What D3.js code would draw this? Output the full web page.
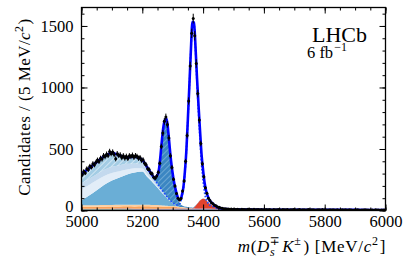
<!DOCTYPE html>
<html>
<head>
  <script src='https://d3js.org/d3.v7.min.js'></script>
  <style>
    body { margin: 0; background: white; }
    text { font-family: 'Liberation Serif', 'DejaVu Serif', serif; fill: black; }
  </style>
</head>
<body>
  <svg id="canvas" width="407" height="265"></svg>
  <script>
    // histogram of candidates, 5 MeV bins starting at 5000
    const binStart = 5000;
    const binWidth = 5;
    const dataCounts = [
      290, 318, 305, 340, 332, 360, 352, 381, 370, 392,
      410, 398, 425, 418, 446, 438, 458, 447, 480, 462,
      475, 455, 420, 462, 448, 452, 430, 445, 426, 441,
      422, 445, 438, 450, 432, 446, 440, 425, 430, 408,
      412, 385, 372, 340, 333, 305, 298, 270, 262, 280,
      310, 385, 520, 630, 725, 760, 700, 590, 445, 350,
      255, 200, 138, 100, 86, 98, 158, 240, 400, 610,
      890, 1175, 1440, 1560, 1420, 1195, 950, 735, 545, 380,
      275, 185, 140, 100, 82, 64, 55, 42, 38, 28,
      26, 20, 19, 14, 15, 12, 13, 10, 12, 9,
      10, 8, 11, 9, 7, 10, 8, 9, 6, 11, 8, 9, 7, 10, 6, 8, 9, 7, 8, 6,
      7, 9, 6, 8, 7, 5, 9, 7, 6, 8, 7, 5, 8, 6, 7, 9, 5, 6, 7, 8,
      6, 5, 7, 8, 5, 6, 7, 4, 6, 8, 5, 7, 6, 5, 4, 7, 6, 5, 8, 5,
      6, 4, 5, 7, 5, 6, 4, 5, 6, 3, 5, 6, 4, 7, 5, 4, 6, 5, 3, 5,
      4, 6, 5, 3, 5, 4, 6, 4, 5, 3, 4, 5, 3, 6, 4, 5, 3, 4, 5, 4
    ];

    // fit components evaluated on a common mass grid
    const fitMass = [5000, 5025, 5050, 5075, 5100, 5125, 5150, 5175, 5200, 5215, 5230, 5240,
      5250, 5255, 5260, 5265, 5270, 5275, 5280, 5285, 5290, 5295, 5300, 5305, 5310, 5315, 5320,
      5325, 5330, 5335, 5340, 5345, 5350, 5355, 5360, 5365, 5370, 5375, 5380, 5385, 5390, 5395,
      5400, 5405, 5410, 5415, 5420, 5430, 5440, 5450, 5460, 5475, 5500, 5550, 5600, 5700, 5800,
      5900, 6000];
    const combBkg = [10, 10, 10, 10, 10, 10, 10, 9, 9,
      9, 9, 9, 9, 9, 9, 9, 9, 9, 9, 9, 9, 9,
      9, 9, 9, 9, 9, 9, 9, 9, 9, 9, 9,
      8, 8, 8, 8, 8, 8, 8, 8, 8, 8, 8, 8, 8, 8,
      8, 8, 7, 7, 7, 7, 7, 6, 6, 5, 5, 4];
    const purpleBkg = [5, 5, 5, 5, 5, 6, 6, 6, 6,
      6, 6, 6, 6, 6, 6, 6, 6, 6, 6, 6, 6, 6,
      7, 7, 7, 7, 7, 7, 7, 7, 7, 7, 7,
      8, 8, 8, 8, 8, 8, 8, 8, 8, 8, 8, 8, 8, 8,
      7, 6, 4, 3, 1, 0, 0, 0, 0, 0, 0, 0];
    const orangeBkg = [15, 15, 16, 16, 17, 17, 18, 18, 19,
      19, 18, 18, 18, 17, 17, 16, 16, 15, 15, 14, 14, 13, 13, 12, 12, 11, 10, 9, 8, 7, 6, 5, 4, 4, 3, 2, 2, 1, 1,
      0, 0, 0, 0, 0, 0, 0, 0, 0, 0, 0, 0, 0, 0, 0, 0, 0, 0, 0, 0];
    const peachBkg = [12, 12, 12, 13, 13, 13, 13, 13, 13,
      13, 12, 12, 11, 11, 10, 10, 9, 9, 8, 8, 8, 7, 7, 6, 6, 5, 5, 4, 4, 3, 3, 2, 2, 1, 1, 1,
      0, 0, 0, 0, 0, 0, 0, 0, 0, 0, 0, 0, 0, 0, 0, 0, 0, 0, 0, 0, 0, 0, 0];
    const misIdBkg = [0, 0, 0, 0, 0, 0, 0, 0, 0, 0, 0, 0, 0, 0, 0, 0, 0, 0, 0, 0, 0, 0, 0, 0, 0, 0, 0, 0, 0, 0, 0, 0, 0, 0, 0, 0,
      7, 20, 36, 52, 66, 75, 80, 77, 67, 55, 43, 25, 12, 5, 2,
      0, 0, 0, 0, 0, 0, 0, 0];
    const partRecoA = [40, 80, 122, 165, 198, 222, 245, 262, 270,
      230, 195, 168, 140, 128, 115, 102, 90, 77, 65, 53, 42, 32, 22, 14, 8, 3,
      0, 0, 0, 0, 0, 0, 0, 0, 0, 0, 0, 0, 0, 0, 0, 0, 0, 0, 0, 0, 0, 0, 0, 0, 0, 0, 0, 0, 0, 0, 0, 0, 0];
    const partRecoB = [90, 86, 80, 72, 62, 52, 42, 35, 25,
      20, 14, 10, 8, 6, 5, 4, 3, 2, 1, 1,
      0, 0, 0, 0, 0, 0, 0, 0, 0, 0, 0, 0, 0, 0, 0, 0, 0, 0, 0, 0, 0, 0, 0, 0, 0, 0, 0, 0, 0, 0, 0, 0, 0, 0, 0, 0, 0, 0, 0];
    const partRecoC = [50, 50, 50, 50, 50, 48, 45, 40, 35,
      28, 20, 16, 13, 11, 10, 9, 8, 7, 6, 5, 4, 3, 2, 1,
      0, 0, 0, 0, 0, 0, 0, 0, 0, 0, 0, 0, 0, 0, 0, 0, 0, 0, 0, 0, 0, 0, 0, 0, 0, 0, 0, 0, 0, 0, 0, 0, 0, 0, 0];
    const partRecoD = [75, 86, 98, 108, 112, 80, 52, 55, 35,
      28, 20, 15, 12, 10, 9, 8, 7, 6, 5, 4, 3, 2, 1, 1,
      0, 0, 0, 0, 0, 0, 0, 0, 0, 0, 0, 0, 0, 0, 0, 0, 0, 0, 0, 0, 0, 0, 0, 0, 0, 0, 0, 0, 0, 0, 0, 0, 0, 0, 0];
    const bdPeak = [0, 0, 0, 0, 0, 0, 0, 0, 0,
      2, 5, 12, 70, 140, 270, 420, 540, 605, 630, 550, 430, 320, 235, 170, 118, 75, 42, 24, 15, 10,
      8, 7, 6, 5, 4, 4, 3, 3, 2, 2, 2, 1, 1, 1,
      0, 0, 0, 0, 0, 0, 0, 0, 0, 0, 0, 0, 0, 0, 0];
    const bsSignal = [0, 0, 0, 0, 0, 0, 0, 0, 0, 0, 0, 0, 0, 0, 0,
      1, 1, 1, 1, 2, 2, 3, 3, 4, 6, 10, 18, 35, 80, 150, 280, 460, 720, 1000, 1290, 1510, 1500,
      1290, 1020, 780, 560, 360, 230, 130, 75, 48, 30, 20, 12, 8, 5, 3, 2, 1,
      0, 0, 0, 0, 0];

    const xTicks = [5000, 5200, 5400, 5600, 5800, 6000];
    const yTicks = [0, 500, 1000, 1500];

    const svg = d3.select('svg#canvas');
    const plotLeft = 81.5, plotRight = 385.5, plotTop = 7.5, plotBottom = 210.5;

    const xScale = d3.scaleLinear().domain([5000, 6000]).range([plotLeft, plotRight]);
    const yScale = d3.scaleLinear().domain([0, 1650]).range([plotBottom, plotTop]);

    // hatch patterns
    const defs = svg.append('defs');
    function hatch(id, base, line, w) {
      const p = defs.append('pattern')
        .attr('id', id)
        .attr('patternUnits', 'userSpaceOnUse')
        .attr('width', 4).attr('height', 4)
        .attr('patternTransform', 'rotate(45)');
      p.append('rect').attr('width', 4).attr('height', 4).attr('fill', base);
      p.append('line').attr('x1', 0).attr('y1', 0).attr('x2', 0).attr('y2', 4)
        .attr('stroke', line).attr('stroke-width', w);
    }
    hatch('hatchLight', '#a3cce4', '#e4f0f9', 1.4);
    hatch('hatchDark', '#3b86c2', '#8fbfe0', 1.2);

    defs.append('clipPath').attr('id', 'plotClip')
      .append('rect').attr('x', plotLeft).attr('y', plotTop)
      .attr('width', plotRight - plotLeft).attr('height', plotBottom - plotTop);

    // stacked fit components
    const keys = ['comb', 'purple', 'orange', 'peach', 'misid', 'recoA', 'recoB', 'recoC', 'recoD', 'bd', 'sig'];
    const colours = {
      comb: '#7aa87c', purple: '#8468b4', orange: '#f9a25a', peach: '#fccfa0', misid: '#e2432d',
      recoA: '#6aaed6', recoB: '#e2edf8', recoC: '#c3d9ee', recoD: 'url(#hatchLight)', bd: 'url(#hatchDark)'
    };
    const fitRows = fitMass.map((m, i) => ({
      m: m, comb: combBkg[i], purple: purpleBkg[i], orange: orangeBkg[i], peach: peachBkg[i],
      misid: misIdBkg[i], recoA: partRecoA[i], recoB: partRecoB[i], recoC: partRecoC[i],
      recoD: partRecoD[i], bd: bdPeak[i], sig: bsSignal[i]
    }));
    const stacked = d3.stack().keys(keys)(fitRows);

    const plot = svg.append('g').attr('clip-path', 'url(#plotClip)');

    const area = d3.area()
      .x(d => xScale(d.data.m))
      .y0(d => yScale(d[0]))
      .y1(d => yScale(d[1]))
      .curve(d3.curveMonotoneX);

    plot.selectAll('path.layer')
      .data(stacked.filter(s => s.key !== 'sig'))
      .join('path')
      .attr('class', 'layer')
      .attr('d', area)
      .attr('fill', s => colours[s.key]);

    // signal drawn as a dotted outline, on top of the non-peaking backgrounds
    const sigLine = d3.line()
      .x(d => xScale(d.m))
      .y(d => yScale(d.comb + d.purple + d.orange + d.peach + d.recoA + d.recoB + d.recoC + d.recoD + d.sig))
      .curve(d3.curveMonotoneX);
    plot.append('path')
      .attr('d', sigLine(fitRows))
      .attr('fill', 'none')
      .attr('stroke', '#1f4fff')
      .attr('stroke-width', 1.8)
      .attr('stroke-dasharray', '1.6,1.8');

    // total fit
    const totalLine = d3.line()
      .x(d => xScale(d.data.m))
      .y(d => yScale(d[1]))
      .curve(d3.curveMonotoneX);
    plot.append('path')
      .attr('d', totalLine(stacked[stacked.length - 1]))
      .attr('fill', 'none')
      .attr('stroke', '#0000ff')
      .attr('stroke-width', 2.6);

    // data points with sqrt(N) errors
    const points = dataCounts.map((n, i) => ({ m: binStart + binWidth * (i + 0.5), n: n }));
    plot.append('g').selectAll('line')
      .data(points)
      .join('line')
      .attr('x1', d => xScale(d.m)).attr('x2', d => xScale(d.m))
      .attr('y1', d => yScale(d.n - Math.sqrt(d.n)))
      .attr('y2', d => yScale(d.n + Math.sqrt(d.n)))
      .attr('stroke', 'black')
      .attr('stroke-width', 1);
    plot.append('g').selectAll('circle')
      .data(points)
      .join('circle')
      .attr('cx', d => xScale(d.m))
      .attr('cy', d => yScale(d.n))
      .attr('r', 1.5)
      .attr('fill', 'black');

    // axes, ticks inward on all sides
    function styleAxis(g) {
      g.select('.domain').remove();
      g.selectAll('.tick line').attr('stroke', 'black').attr('stroke-width', 1);
      g.selectAll('text').attr('font-family', "'Liberation Serif', 'DejaVu Serif', serif")
        .attr('font-size', 16.5).attr('fill', 'black');
    }
    const xMinor = d3.range(5000, 6001, 50);
    const yMinor = d3.range(0, 1601, 100);

    svg.append('g').attr('transform', `translate(0,${plotBottom})`)
      .call(d3.axisBottom(xScale).tickValues(xTicks).tickSize(-6).tickPadding(5).tickFormat(d3.format('d')))
      .call(styleAxis);
    svg.append('g').attr('transform', `translate(0,${plotBottom})`)
      .call(d3.axisBottom(xScale).tickValues(xMinor).tickSize(-3).tickFormat(''))
      .call(styleAxis);
    svg.append('g').attr('transform', `translate(0,${plotTop})`)
      .call(d3.axisTop(xScale).tickValues(xTicks).tickSize(-6).tickFormat(''))
      .call(styleAxis);
    svg.append('g').attr('transform', `translate(0,${plotTop})`)
      .call(d3.axisTop(xScale).tickValues(xMinor).tickSize(-3).tickFormat(''))
      .call(styleAxis);

    const yAxisG = svg.append('g').attr('transform', `translate(${plotLeft},0)`)
      .call(d3.axisLeft(yScale).tickValues(yTicks).tickSize(-6).tickPadding(8).tickFormat(d3.format('d')))
      .call(styleAxis);
    // the zero label sits a little above its tick, clear of the 5000 label
    yAxisG.selectAll('.tick text').filter(d => d === 0).attr('dy', '0.05em');
    svg.append('g').attr('transform', `translate(${plotLeft},0)`)
      .call(d3.axisLeft(yScale).tickValues(yMinor).tickSize(-3).tickFormat(''))
      .call(styleAxis);
    svg.append('g').attr('transform', `translate(${plotRight},0)`)
      .call(d3.axisRight(yScale).tickValues(yTicks).tickSize(-6).tickFormat(''))
      .call(styleAxis);
    svg.append('g').attr('transform', `translate(${plotRight},0)`)
      .call(d3.axisRight(yScale).tickValues(yMinor).tickSize(-3).tickFormat(''))
      .call(styleAxis);

    svg.append('rect')
      .attr('x', plotLeft).attr('y', plotTop)
      .attr('width', plotRight - plotLeft).attr('height', plotBottom - plotTop)
      .attr('fill', 'none').attr('stroke', 'black').attr('stroke-width', 1.3);

    // text helper: pieces of [text, italic, dy, size, dx]
    function richText(sel, pieces) {
      pieces.forEach(p => {
        const t = sel.append('tspan').text(p[0]);
        if (p[1]) t.attr('font-style', 'italic');
        if (p[2]) t.attr('dy', p[2]);
        if (p[3]) t.attr('font-size', p[3]);
        if (p[4]) t.attr('dx', p[4]);
      });
    }

    // x-axis title
    const xTitle = svg.append('text')
      .attr('x', 386).attr('y', 252)
      .attr('text-anchor', 'end')
      .attr('font-size', 17)
      .attr('letter-spacing', 0.7);
    richText(xTitle, [
      ['m', true], ['(', false], ['D', true],
      ['s', true, 4, 12], ['∓', false, -11, 12, -6],
      ['K', true, 7, 0, 2], ['±', false, -7, 12],
      [') [MeV/', false, 7, 0, 2], ['c', true], ['2', false, -7, 12], [']', false, 7, 0, 1]
    ]);

    // y-axis title
    const yTitle = svg.append('text')
      .attr('transform', 'translate(30,107) rotate(-90)')
      .attr('text-anchor', 'middle')
      .attr('font-size', 17)
      .attr('letter-spacing', 0.45);
    richText(yTitle, [
      ['Candidates / (5 MeV/', false], ['c', true], ['2', false, -7, 12], [')', false, 7, 0, 1]
    ]);

    // experiment label
    svg.append('text')
      .attr('x', 312).attr('y', 42)
      .attr('font-size', 22)
      .text('LHCb');
    const lumi = svg.append('text')
      .attr('x', 307).attr('y', 58)
      .attr('font-size', 16.5);
    richText(lumi, [['6 fb', false], ['−1', false, -7, 12, 1]]);
  </script>
</body>
</html>
